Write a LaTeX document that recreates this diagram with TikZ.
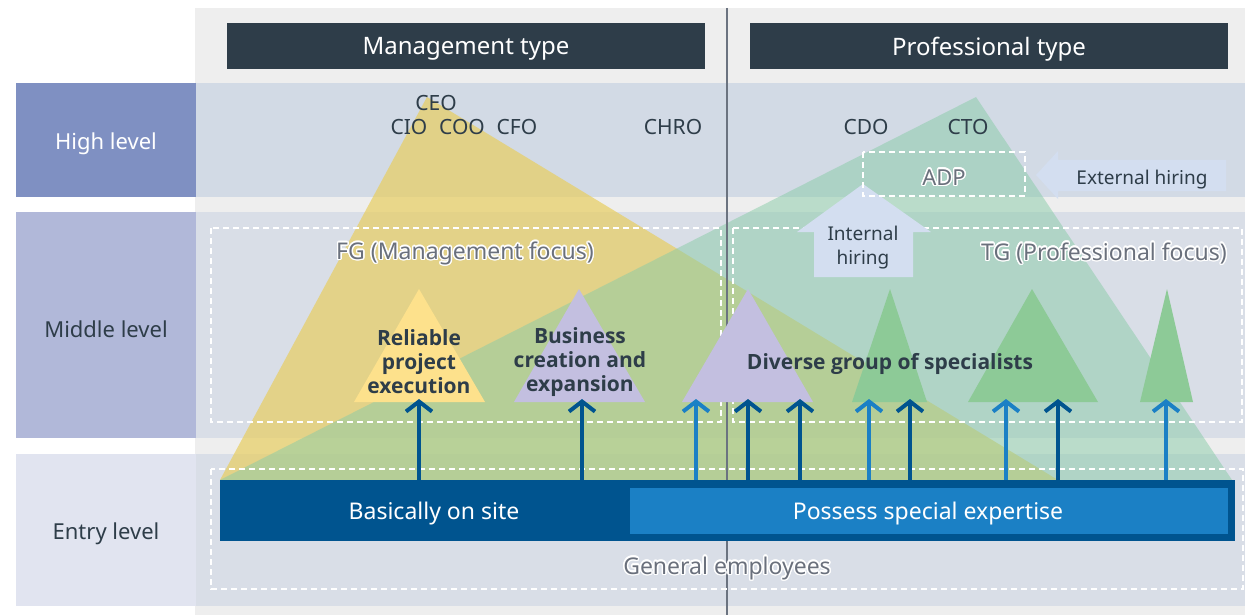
\documentclass[tikz,border=0pt]{standalone}
\usepackage{fontspec}
\setmainfont{Noto Sans}
\newfontfamily\boldSans{Open Sans}
\usepackage{contour}
\usetikzlibrary{arrows.meta}

\contourlength{1.4pt}
\contournumber{16}

\begin{document}
\begin{tikzpicture}[x=1pt, y=-1pt,
    levelLabel/.style={minimum width=180pt, font=\fontsize{22}{26}\selectfont},
    typeHead/.style={fill=headColour, text=white, minimum width=478pt, minimum height=46pt, text depth=0pt, font=\fontsize{24}{28}\selectfont},
    exec/.style={text=textColour, font=\fontsize{21}{24}\selectfont},
    groupText/.style={text=textColour, align=center, font=\boldSans\bfseries\fontsize{21}{24}\selectfont},
    haloText/.style={text=haloColour, font=\fontsize{23}{26}\selectfont},
    hireText/.style={text=textColour, align=center, font=\fontsize{19}{24}\selectfont},
    barText/.style={text=white, font=\fontsize{23}{26}\selectfont},
    dashBox/.style={draw=white, line width=2pt, dash pattern=on 6pt off 4pt},
    upArrow/.style={line width=4pt, -{Straight Barb[length=10pt,width=26pt]}},
    ]
    % Define colours
    \definecolor{textColour}{HTML}{2E3D49}
    \definecolor{headColour}{HTML}{2E3D49}
    \definecolor{frameColour}{HTML}{EEEEEE}
    \definecolor{highBand}{HTML}{D2DAE5}
    \definecolor{lowBand}{HTML}{D9DEE7}
    \definecolor{highLabel}{HTML}{7F90C2}
    \definecolor{midLabel}{HTML}{B1B8D9}
    \definecolor{entryLabel}{HTML}{E1E4F0}
    \definecolor{lineColour}{HTML}{6B7380}
    \definecolor{haloColour}{HTML}{6A707C}
    \definecolor{mgmtYellow}{HTML}{E8CE60}
    \definecolor{profGreen}{HTML}{88CCA7}
    \definecolor{smallYellow}{HTML}{FDE18C}
    \definecolor{smallPurple}{HTML}{C3BFE0}
    \definecolor{smallGreen}{HTML}{8DCA97}
    \definecolor{hireBlue}{HTML}{D3DEF0}
    \definecolor{darkBlue}{HTML}{00548F}
    \definecolor{lightBlue}{HTML}{1B80C5}

    \useasboundingbox (0,0) rectangle (1245,615);

    % Draw frame and level bands
    \fill[frameColour] (195,8) rectangle (1245,615);
    \fill[highBand] (195,83) rectangle (1245,197);
    \fill[lowBand] (195,212) rectangle (1245,438);
    \fill[lowBand] (195,454) rectangle (1245,606);

    % Level labels
    \node[levelLabel, fill=highLabel, text=white, minimum height=114pt] (high) at (106,140) {};
    \node[levelLabel, fill=midLabel, minimum height=226pt] (middle) at (106,325) {};
    \node[levelLabel, fill=entryLabel, minimum height=152pt] (entry) at (106,530) {};
    \node[levelLabel, text=white] (highText) at (106,144) {High level};
    \node[levelLabel, text=textColour] (middleText) at (106,329) {Middle level};
    \node[levelLabel, text=textColour] (entryText) at (106,534) {Entry level};

    % Type headers
    \node[typeHead] (mgmt) at (466,46) {Management type};
    \node[typeHead] (prof) at (989,46) {Professional type};

    % Big triangles
    \fill[mgmtYellow, fill opacity=0.7] (220,480) -- (427,97) -- (1058,480) -- cycle;
    \fill[profGreen, fill opacity=0.5] (220,480) -- (976,97) -- (1232,480) -- cycle;

    % Divider
    \draw[lineColour, line width=2pt] (727,8) -- (727,615);

    % Dashed group boxes
    \draw[dashBox] (211,228) rectangle (721,422);
    \draw[dashBox] (733,228) rectangle (1242,422);
    \draw[dashBox] (211,469) rectangle (1243,589);

    % Hiring arrows
    \fill[hireBlue] (1036,175) -- (1058,151) -- (1058,160) -- (1226,160) -- (1226,191) -- (1058,191) -- (1058,199) -- cycle;
    \fill[hireBlue] (863,184) -- (931,232) -- (913,232) -- (913,277) -- (814,277) -- (814,232) -- (797,232) -- cycle;
    \draw[dashBox] (863,152) rectangle (1025,196);

    % Small triangles
    \fill[smallYellow] (354,402) -- (419,289) -- (485,402) -- cycle;
    \fill[smallPurple] (514,402) -- (579,289) -- (645,402) -- cycle;
    \fill[smallPurple] (682,402) -- (748,289) -- (813,402) -- cycle;
    \fill[smallGreen] (852,402) -- (890,289) -- (927,402) -- cycle;
    \fill[smallGreen] (968,402) -- (1032,289) -- (1098,402) -- cycle;
    \fill[smallGreen] (1140,402) -- (1167,289) -- (1193,402) -- cycle;

    % Arrows up from the bars
    \foreach \x/\y/\c [count=\n] in {419/480/darkBlue, 582/480/darkBlue, 696/488/lightBlue, 748/480/darkBlue, 800/480/darkBlue, 869/488/lightBlue, 910/480/darkBlue, 1006/488/lightBlue, 1058/480/darkBlue, 1166/488/lightBlue}{
        \coordinate (foot\n) at (\x,\y);
        \coordinate (tip\n) at (\x,399);
        \draw[upArrow, \c] (foot\n) -- (tip\n);
    }

    % Bars
    \fill[darkBlue] (220,480) rectangle (1235,541);
    \fill[lightBlue] (630,488) rectangle (1228,534);
    \node[barText] (site) at (434,514) {Basically on site};
    \node[barText] (expert) at (928,514) {Possess special expertise};

    % Executive titles
    \node[exec] (ceo) at (436,103) {CEO};
    \node[exec] (cio) at (409,127) {CIO};
    \node[exec] (coo) at (462,127) {COO};
    \node[exec] (cfo) at (517,127) {CFO};
    \node[exec] (chro) at (673,127) {CHRO};
    \node[exec] (cdo) at (866,127) {CDO};
    \node[exec] (cto) at (968,127) {CTO};

    % Group labels
    \node[groupText] (reliable) at (419,362) {Reliable\\project\\execution};
    \node[groupText] (business) at (580,362) {Business\\creation and\\expansion};
    \node[groupText] (diverse) at (890,364) {Diverse group of specialists};

    % Outlined labels
    \node[haloText] (fg) at (465,254) {\contour{white}{FG (Management focus)}};
    \node[haloText] (tg) at (1104,254) {\contour{white}{TG (Professional focus)}};
    \node[haloText] (general) at (727,569) {\contour{white}{General employees}};
    \node[haloText, font=\fontsize{22}{26}\selectfont] (adp) at (944,178) {\contour{white}{ADP}};

    % Hiring labels
    \node[hireText] (external) at (1142,180) {External hiring};
    \node[hireText] (internal) at (863,248) {Internal\\hiring};

\end{tikzpicture}
\end{document}
